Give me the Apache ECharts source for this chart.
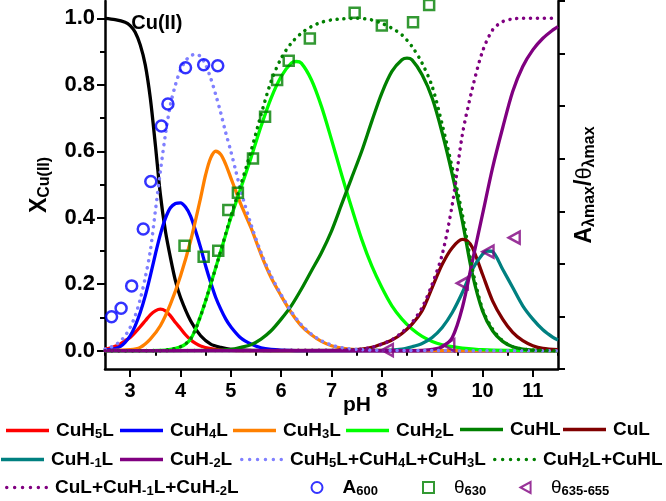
<!DOCTYPE html>
<html><head><meta charset="utf-8">
<script src="https://cdn.jsdelivr.net/npm/echarts@6/dist/echarts.min.js"></script>
<style>html,body{margin:0;padding:0;background:#fff}#c{width:666px;height:501px}</style>
</head><body><div id="c"></div>
<script>
// ---------------- data ----------------
const xTicks = [3, 4, 5, 6, 7, 8, 9, 10, 11];
const xMinorTicks = [2.5, 3.5, 4.5, 5.5, 6.5, 7.5, 8.5, 9.5, 10.5, 11.5];
const yTicks = [0, 0.2, 0.4, 0.6, 0.8, 1.0];
const yMinorTicks = [0.1, 0.3, 0.5, 0.7, 0.9];

const pH_CuII = [2.5,2.7,2.9,3.0,3.1,3.2,3.3,3.4,3.5,3.6,3.7,3.8,3.9,4.0,4.2,4.4,4.6,4.8,5.0,5.5,6.0,11.5];
const X_CuII  = [1.0,0.996,0.988,0.978,0.958,0.92,0.86,0.76,0.62,0.47,0.36,0.28,0.21,0.16,0.09,0.045,0.02,0.01,0.004,0.001,0,0];

const pH_CuH5L = [2.5,2.6,2.7,2.8,2.9,3.0,3.1,3.2,3.3,3.4,3.5,3.6,3.7,3.8,3.9,4.0,4.1,4.2,4.3,4.4,4.6,4.8,5.0,5.5,11.5];
const X_CuH5L  = [0.005,0.008,0.013,0.02,0.03,0.04,0.055,0.072,0.09,0.108,0.12,0.125,0.12,0.105,0.085,0.067,0.048,0.033,0.022,0.014,0.006,0.002,0.001,0,0];

const pH_CuH4L = [2.5,2.7,2.8,2.9,3.0,3.1,3.2,3.3,3.4,3.5,3.6,3.7,3.8,3.9,4.0,4.1,4.2,4.3,4.4,4.5,4.6,4.7,4.8,4.9,5.0,5.2,5.4,5.6,5.8,6.0,6.5,11.5];
const X_CuH4L  = [0.002,0.006,0.012,0.025,0.045,0.075,0.115,0.165,0.225,0.29,0.35,0.398,0.43,0.443,0.445,0.432,0.405,0.36,0.31,0.255,0.205,0.16,0.125,0.095,0.072,0.038,0.02,0.009,0.004,0.002,0,0];

const pH_CuH3L = [2.5,3.0,3.2,3.4,3.6,3.8,4.0,4.2,4.4,4.5,4.6,4.7,4.8,4.9,5.0,5.1,5.2,5.4,5.6,5.8,6.0,6.2,6.4,6.6,6.8,7.0,7.2,7.5,8.0,11.5];
const X_CuH3L  = [0,0.003,0.01,0.035,0.075,0.14,0.225,0.33,0.46,0.53,0.58,0.6,0.59,0.56,0.52,0.48,0.44,0.37,0.29,0.22,0.165,0.115,0.075,0.048,0.028,0.015,0.008,0.003,0.001,0];

const pH_CuH2L = [2.5,3.6,3.8,4.0,4.1,4.2,4.3,4.4,4.5,4.6,4.7,4.8,4.9,5.0,5.1,5.2,5.4,5.6,5.8,6.0,6.2,6.3,6.4,6.6,6.8,7.0,7.2,7.4,7.6,7.8,8.0,8.2,8.4,8.6,8.8,9.0,9.2,9.4,9.6,10.0,10.5,11.5];
const X_CuH2L  = [0,0.001,0.004,0.012,0.02,0.035,0.065,0.105,0.15,0.2,0.25,0.3,0.35,0.40,0.445,0.49,0.58,0.675,0.76,0.825,0.865,0.87,0.865,0.815,0.735,0.635,0.53,0.43,0.335,0.255,0.19,0.135,0.095,0.065,0.043,0.028,0.018,0.012,0.008,0.003,0.001,0];

const pH_CuHL = [2.5,4.6,5.0,5.2,5.4,5.6,5.8,6.0,6.2,6.4,6.6,6.8,7.0,7.2,7.4,7.6,7.8,8.0,8.2,8.4,8.5,8.6,8.8,9.0,9.2,9.4,9.6,9.8,10.0,10.2,10.4,10.6,10.8,11.0,11.5];
const X_CuHL  = [0,0.001,0.004,0.01,0.018,0.035,0.06,0.095,0.135,0.185,0.24,0.295,0.36,0.44,0.52,0.6,0.69,0.775,0.84,0.875,0.88,0.875,0.83,0.76,0.655,0.53,0.39,0.23,0.12,0.06,0.028,0.012,0.005,0.002,0];

const pH_CuL = [2.5,7.2,7.6,7.8,8.0,8.2,8.4,8.6,8.8,9.0,9.2,9.4,9.6,9.7,9.8,10.0,10.2,10.4,10.6,10.8,11.0,11.2,11.5];
const X_CuL  = [0,0.001,0.005,0.01,0.02,0.032,0.052,0.08,0.12,0.19,0.26,0.31,0.335,0.33,0.31,0.23,0.15,0.095,0.055,0.03,0.015,0.007,0.003];

const pH_CuHm1L = [2.5,8.0,8.4,8.6,8.8,9.0,9.2,9.4,9.6,9.8,10.0,10.1,10.2,10.4,10.6,10.8,11.0,11.2,11.4,11.5];
const X_CuHm1L  = [0,0.001,0.005,0.012,0.022,0.04,0.07,0.115,0.175,0.245,0.29,0.30,0.298,0.245,0.19,0.135,0.095,0.063,0.04,0.032];

const pH_CuHm2L = [2.5,8.6,8.8,9.0,9.2,9.4,9.6,9.8,10.0,10.2,10.4,10.6,10.8,11.0,11.2,11.4,11.5];
const X_CuHm2L  = [0,0,0.001,0.004,0.012,0.04,0.13,0.27,0.41,0.55,0.67,0.78,0.855,0.905,0.94,0.965,0.975];

const pH_sum543 = [2.5,2.6,2.7,2.8,2.9,3.0,3.1,3.2,3.3,3.4,3.5,3.6,3.7,3.8,3.9,4.0,4.1,4.2,4.3,4.4,4.5,4.6,4.7,4.8,4.9,5.0,5.1,5.2,5.4,5.6,5.8,6.0,6.2,6.4,6.6,6.8,7.0,7.2,7.5,8.0,11.5];
const X_sum543  = [0.005,0.01,0.017,0.028,0.045,0.07,0.105,0.155,0.22,0.3,0.42,0.54,0.65,0.74,0.8,0.845,0.872,0.887,0.892,0.885,0.86,0.82,0.77,0.715,0.655,0.6,0.54,0.48,0.38,0.295,0.225,0.168,0.118,0.078,0.05,0.03,0.017,0.009,0.004,0.001,0];

const pH_sum21 = [2.5,3.6,3.8,4.0,4.2,4.4,4.6,4.8,5.0,5.2,5.4,5.6,5.8,6.0,6.2,6.4,6.6,6.8,7.0,7.2,7.5,7.8,8.0,8.2,8.4,8.6,8.8,9.0,9.2,9.4,9.6,9.8,10.0,10.2,10.4,10.6,10.8,11.0,11.5];
const X_sum21  = [0,0.001,0.004,0.012,0.035,0.105,0.2,0.3,0.405,0.5,0.6,0.71,0.81,0.88,0.925,0.955,0.975,0.988,0.995,0.998,1.0,0.995,0.985,0.97,0.95,0.915,0.865,0.795,0.68,0.55,0.41,0.245,0.125,0.065,0.03,0.012,0.005,0.002,0];

const pH_sum0m1m2 = [2.5,7.4,7.6,7.8,8.0,8.2,8.4,8.6,8.8,9.0,9.2,9.4,9.6,9.8,10.0,10.2,10.4,10.6,10.8,11.5];
const X_sum0m1m2  = [0,0.002,0.005,0.01,0.02,0.033,0.055,0.085,0.13,0.2,0.29,0.44,0.65,0.79,0.9,0.965,0.99,0.998,1.0,1.0];

const pH_A600 = [2.63,2.82,3.03,3.26,3.41,3.62,3.75,4.10,4.46,4.74];
const A600    = [0.102,0.128,0.195,0.366,0.509,0.676,0.742,0.851,0.86,0.857];

const pH_T630 = [4.08,4.46,4.75,4.95,5.14,5.44,5.68,5.92,6.15,6.57,7.46,8.0,8.62,8.94];
const T630    = [0.316,0.283,0.301,0.423,0.475,0.578,0.704,0.814,0.872,0.939,1.017,0.978,0.988,1.04];

const pH_T635 = [8.11,9.33,9.6,10.11,10.63];
const T635    = [0.002,0.017,0.203,0.298,0.34];

// ---------------- chart ----------------
const FONT = '"Liberation Sans", Arial, Helvetica, sans-serif';
const zip = (xs, ys) => xs.map((x, i) => [x, ys[i]]);
const chart = echarts.init(document.getElementById('c'), null, { renderer: 'canvas' });

const DOT = [0.1, 6.8];
function lineSeries(name, xs, ys, color, dotted, z) {
  return {
    name, type: 'line', data: zip(xs, ys), symbol: 'none', showSymbol: false, smooth: 0.3,
    z: z, clip: true,
    lineStyle: { color, width: dotted ? 3.5 : 3.3, type: dotted ? DOT : 'solid', cap: dotted ? 'round' : 'butt', join: 'round' },
    itemStyle: { color }
  };
}

const series = [
  Object.assign(lineSeries('Cu(II)', pH_CuII, X_CuII, '#000000', false, 2), {
    markPoint: {
      symbol: 'circle', symbolSize: 1, itemStyle: { color: 'rgba(0,0,0,0)' },
      label: { show: true, position: 'inside', formatter: 'Cu(II)', color: '#000', fontSize: 20, fontWeight: 'bold', fontFamily: FONT },
      data: [{ coord: [3.53, 0.983] }]
    }
  }),
  lineSeries('CuH5L', pH_CuH5L, X_CuH5L, '#ff0000', false, 2),
  lineSeries('CuH4L', pH_CuH4L, X_CuH4L, '#0000ff', false, 2),
  lineSeries('CuH3L', pH_CuH3L, X_CuH3L, '#ff8000', false, 2),
  lineSeries('CuH2L', pH_CuH2L, X_CuH2L, '#00ff00', false, 2),
  lineSeries('CuHL', pH_CuHL, X_CuHL, '#008000', false, 2),
  lineSeries('CuL', pH_CuL, X_CuL, '#800000', false, 2),
  lineSeries('CuH-1L', pH_CuHm1L, X_CuHm1L, '#008080', false, 2),
  lineSeries('CuH-2L', pH_CuHm2L, X_CuHm2L, '#800080', false, 2),
  lineSeries('CuH5L+CuH4L+CuH3L', pH_sum543, X_sum543, '#8080ff', true, 3),
  lineSeries('CuH2L+CuHL', pH_sum21, X_sum21, '#008000', true, 3),
  lineSeries('CuL+CuH-1L+CuH-2L', pH_sum0m1m2, X_sum0m1m2, '#800080', true, 3),
  {
    name: 'A600', type: 'scatter', data: zip(pH_A600, A600), symbol: 'circle', symbolSize: 11, z: 4,
    itemStyle: { color: 'rgba(255,255,255,0)', borderColor: '#0000ff', borderWidth: 2.5 }
  },
  {
    name: 'θ630', type: 'scatter', data: zip(pH_T630, T630), symbol: 'rect', symbolSize: 10, z: 4,
    itemStyle: { color: 'rgba(255,255,255,0)', borderColor: '#008000', borderWidth: 2.5 }
  },
  {
    name: 'θ635-655', type: 'scatter', data: zip(pH_T635, T635), symbol: 'path://M0,6 L11,0 L11,12 Z', symbolSize: [11, 12], z: 4,
    itemStyle: { color: 'rgba(255,255,255,0)', borderColor: '#800080', borderWidth: 2.5 }
  }
];

const legendLabels = {
  'CuH5L': '{n|CuH}{s|5}{n|L}',
  'CuH4L': '{n|CuH}{s|4}{n|L}',
  'CuH3L': '{n|CuH}{s|3}{n|L}',
  'CuH2L': '{n|CuH}{s|2}{n|L}',
  'CuHL': '{n|CuHL}',
  'CuL': '{n|CuL}',
  'CuH-1L': '{n|CuH}{s|-1}{n|L}',
  'CuH-2L': '{n|CuH}{s|-2}{n|L}',
  'CuH5L+CuH4L+CuH3L': '{n|CuH}{s|5}{n|L+CuH}{s|4}{n|L+CuH}{s|3}{n|L}',
  'CuH2L+CuHL': '{n|CuH}{s|2}{n|L+CuHL}',
  'CuL+CuH-1L+CuH-2L': '{n|CuL+CuH}{s|-1}{n|L+CuH}{s|-2}{n|L}',
  'A600': '{n|A}{s|600}',
  'θ630': '{t|θ}{s|630}',
  'θ635-655': '{t|θ}{s|635-655}'
};
const rich = {
  n: { fontSize: 19, fontWeight: 'bold', fontFamily: FONT, color: '#000', lineHeight: 22 },
  t: { fontSize: 19, fontWeight: 'normal', fontFamily: FONT, color: '#000', lineHeight: 22 },
  s: { fontSize: 13, fontWeight: 'bold', fontFamily: FONT, color: '#000', lineHeight: 14, padding: [8, 0, 0, 0] }
};
// legend icons: solid bar or row of round dots (43 px wide)
const SOLID_ICON = 'path://M0,0 L43,0 L43,3.5 L0,3.5 Z';
let dots = '';
for (let k = 0; k < 6; k++) {
  const cx = 1.75 + k * 7.9;
  dots += `M${(cx - 1.75).toFixed(2)},1.75 a1.75,1.75 0 1,0 3.5,0 a1.75,1.75 0 1,0 -3.5,0 Z `;
}
const DOT_ICON = 'path://' + dots.trim();

// [name, left, centerY, kind]
const legendPos = [
  ['CuH5L', 6, 431, 'l'], ['CuH4L', 120, 431, 'l'], ['CuH3L', 233, 431, 'l'], ['CuH2L', 346, 431, 'l'], ['CuHL', 460, 431, 'l'], ['CuL', 563, 431, 'l'],
  ['CuH-1L', 1, 460, 'l'], ['CuH-2L', 120, 460, 'l'], ['CuH5L+CuH4L+CuH3L', 240, 460, 'd'], ['CuH2L+CuHL', 493, 460, 'd'],
  ['CuL+CuH-1L+CuH-2L', 5, 488, 'd'], ['A600', 310.5, 488, 's'], ['θ630', 422, 488, 's'], ['θ635-655', 519.5, 488, 's']
];
const legends = legendPos.map(([name, left, cy, kind]) => {
  const isS = kind === 's';
  const entry = { name };
  if (kind === 'l') entry.icon = SOLID_ICON;
  if (kind === 'd') entry.icon = DOT_ICON;
  return {
    show: true, left, top: cy - 11, orient: 'horizontal', padding: 0, itemGap: 0,
    itemWidth: isS ? 11 : 43, itemHeight: isS ? 11 : 3.5, selectedMode: false,
    data: [entry],
    formatter: (nm) => legendLabels[nm],
    textStyle: { rich, fontSize: 19, fontFamily: FONT, color: '#000', padding: [0, 0, 0, isS ? 15 : 2] }
  };
});

const axisLineStyle = { color: '#000', width: 2.5 };
const option = {
  animation: false,
  backgroundColor: '#fff',
  grid: { left: 105, right: 108, top: 1, bottom: 132, containLabel: false, outerBoundsMode: 'none' },
  legend: legends,
  xAxis: [
    {
      type: 'value', min: 2.5, max: 11.5, position: 'bottom',
      axisLine: { show: true, onZero: false, lineStyle: axisLineStyle },
      axisTick: { show: true, customValues: xTicks, length: 8, inside: false, lineStyle: { color: '#000', width: 2 } },
      axisLabel: { show: true, customValues: xTicks, color: '#000', fontSize: 20, fontWeight: 'bold', fontFamily: FONT, margin: 12 },
      splitLine: { show: false },
      name: 'pH', nameLocation: 'middle', nameGap: 26, nameMoveOverlap: false,
      nameTextStyle: { color: '#000', fontSize: 21, fontWeight: 'bold', fontFamily: FONT, padding: [0, 0, 0, 51] }
    },
    {
      type: 'value', min: 2.5, max: 11.5, position: 'bottom',
      axisLine: { show: false },
      axisTick: { show: true, customValues: xMinorTicks, length: 5, inside: false, lineStyle: { color: '#000', width: 2 } },
      axisLabel: { show: false }, splitLine: { show: false }
    }
  ],
  yAxis: [
    {
      type: 'value', min: -0.055, max: 1.052, position: 'left',
      axisLine: { show: true, onZero: false, lineStyle: axisLineStyle },
      axisTick: { show: true, customValues: yTicks, length: 8, inside: false, lineStyle: { color: '#000', width: 2 } },
      axisLabel: { show: true, customValues: yTicks, formatter: (v) => v.toFixed(1), color: '#000', fontSize: 22, fontWeight: 'bold', fontFamily: FONT, margin: 10 },
      splitLine: { show: false },
      name: '{x|X}{s|Cu(II)}', nameLocation: 'middle', nameRotate: 90, nameGap: 52, nameMoveOverlap: false,
      nameTextStyle: {
        rich: {
          x: { fontSize: 23, fontWeight: 'bold', fontFamily: FONT, color: '#000', lineHeight: 26 },
          s: { fontSize: 16, fontWeight: 'bold', fontFamily: FONT, color: '#000', lineHeight: 18, padding: [9, 0, 0, 0] }
        }
      }
    },
    {
      type: 'value', min: -0.055, max: 1.052, position: 'left',
      axisLine: { show: false },
      axisTick: { show: true, customValues: yMinorTicks, length: 5, inside: false, lineStyle: { color: '#000', width: 2 } },
      axisLabel: { show: false }, splitLine: { show: false }
    },
    {
      type: 'value', min: 0, max: 7, interval: 1, position: 'right',
      axisLine: { show: true, onZero: false, lineStyle: axisLineStyle },
      axisTick: { show: true, length: 7, inside: false, lineStyle: { color: '#000', width: 2 } },
      axisLabel: { show: false }, splitLine: { show: false },
      name: '{a|A}{s|λmax}{n|/}{t|θ}{s|λmax}', nameLocation: 'middle', nameRotate: 90, nameGap: 14, nameMoveOverlap: false,
      nameTextStyle: {
        rich: {
          a: { fontSize: 23, fontWeight: 'bold', fontFamily: FONT, color: '#000', lineHeight: 26 },
          n: { fontSize: 23, fontWeight: 'bold', fontFamily: FONT, color: '#000', lineHeight: 26 },
          t: { fontSize: 22, fontWeight: 'normal', fontFamily: FONT, color: '#000', lineHeight: 26 },
          s: { fontSize: 16, fontWeight: 'bold', fontFamily: FONT, color: '#000', lineHeight: 18, padding: [9, 0, 0, 0] }
        }
      }
    }
  ],
  series: series.map(s => Object.assign({ xAxisIndex: 0, yAxisIndex: 0 }, s))
};
chart.setOption(option);
</script></body></html>
